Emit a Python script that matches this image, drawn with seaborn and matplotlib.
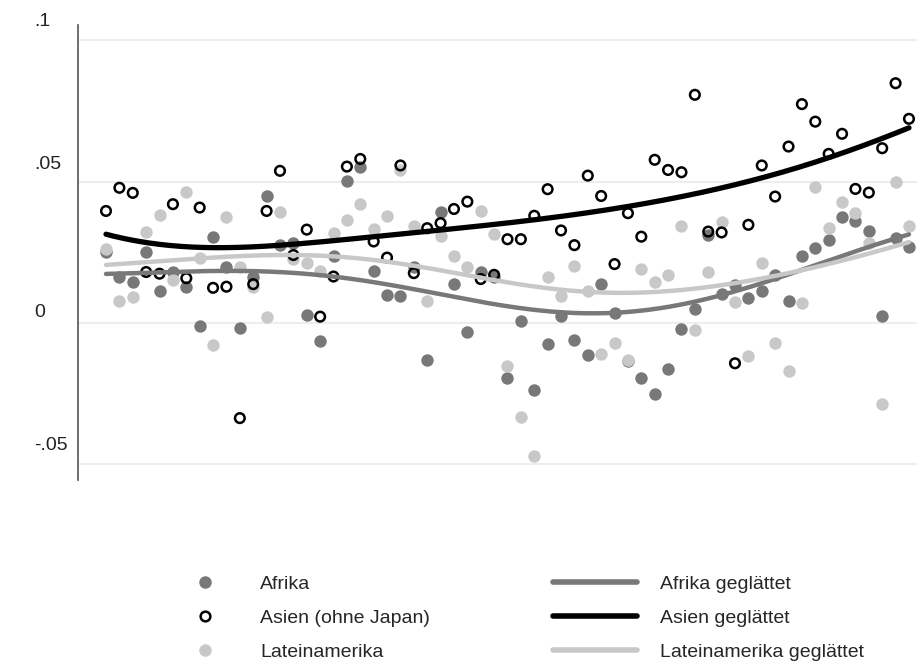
import numpy as np
import pandas as pd
import matplotlib
matplotlib.use("Agg")
import matplotlib.pyplot as plt
from matplotlib.lines import Line2D
from matplotlib.transforms import ScaledTranslation
import seaborn as sns

# one value per year, 61 years (x axis carries no labels in the original)
years = np.arange(1957, 2018)

afrika = [0.0251, 0.0164, 0.0144, 0.0252, 0.0113, 0.0180, 0.0128, -0.0010, 0.0305, 0.0197,
          -0.0019, 0.0162, 0.0450, 0.0276, 0.0284, 0.0028, -0.0064, 0.0237, 0.0502, 0.0553,
          0.0182, 0.0099, 0.0096, 0.0199, -0.0131, 0.0392, 0.0137, -0.0034, 0.0179, 0.0164,
          -0.0196, 0.0005, -0.0237, -0.0075, 0.0026, -0.0060, -0.0113, 0.0137, 0.0034, -0.0135,
          -0.0196, -0.0251, -0.0164, -0.0022, 0.0050, 0.0310, 0.0101, 0.0134, 0.0087, 0.0113,
          0.0170, 0.0078, 0.0238, 0.0264, 0.0294, 0.0373, 0.0361, 0.0326, 0.0026, 0.0300,
          0.0267]

asien = [0.0396, 0.0478, 0.0460, 0.0180, 0.0174, 0.0420, 0.0158, 0.0408, 0.0124, 0.0128,
         -0.0337, 0.0137, 0.0396, 0.0538, 0.0240, 0.0330, 0.0022, 0.0164, 0.0553, 0.0580,
         0.0288, 0.0231, 0.0557, 0.0176, 0.0335, 0.0353, 0.0403, 0.0429, 0.0155, 0.0170,
         0.0296, 0.0296, 0.0379, 0.0473, 0.0327, 0.0275, 0.0521, 0.0449, 0.0208, 0.0388,
         0.0305, 0.0577, 0.0541, 0.0533, 0.0807, 0.0323, 0.0320, -0.0143, 0.0347, 0.0557,
         0.0447, 0.0624, 0.0774, 0.0712, 0.0598, 0.0669, 0.0474, 0.0461, 0.0618, 0.0848,
         0.0722]

lateinamerika = [0.0262, 0.0078, 0.0093, 0.0320, 0.0382, 0.0152, 0.0462, 0.0229, -0.0078, 0.0373,
                 0.0198, 0.0126, 0.0020, 0.0393, 0.0226, 0.0213, 0.0182, 0.0317, 0.0364, 0.0421,
                 0.0331, 0.0379, 0.0540, 0.0344, 0.0078, 0.0308, 0.0237, 0.0199, 0.0396, 0.0316,
                 -0.0152, -0.0334, -0.0471, 0.0164, 0.0096, 0.0202, 0.0111, -0.0110, -0.0070, -0.0131,
                 0.0190, 0.0143, 0.0170, 0.0343, -0.0025, 0.0180, 0.0356, 0.0075, -0.0119, 0.0213,
                 -0.0072, -0.0170, 0.0070, 0.0479, 0.0335, 0.0426, 0.0388, 0.0284, -0.0287, 0.0498,
                 0.0343]

regions = ["Afrika", "Asien (ohne Japan)", "Lateinamerika"]
smooth_labels = ["Afrika geglättet", "Asien geglättet", "Lateinamerika geglättet"]
ytick_values = [-0.05, 0, 0.05, 0.1]
ytick_labels = ["-.05", "0", ".05", ".1"]

colors = {"Afrika": "#787878", "Asien (ohne Japan)": "black", "Lateinamerika": "#c8c8c8"}


def local_smooth(x, y, grid, bw):
    """local linear fit with a gaussian kernel"""
    out = []
    for g in grid:
        w = np.exp(-0.5 * ((x - g) / bw) ** 2)
        xm = np.sum(w * x) / w.sum()
        ym = np.sum(w * y) / w.sum()
        b = np.sum(w * (x - xm) * (y - ym)) / np.sum(w * (x - xm) ** 2)
        out.append(ym + b * (g - xm))
    return np.array(out)


df = pd.DataFrame({
    "Jahr": np.tile(years, 3),
    "Wert": afrika + asien + lateinamerika,
    "Region": np.repeat(regions, len(years)),
})

sns.set_style("white")
plt.rcParams["font.family"] = ["Liberation Sans", "DejaVu Sans"]

fig = plt.figure(figsize=(9.17, 6.62), dpi=100)
ax = fig.add_axes([77.5 / 917, 1 - 480 / 662, (917 - 77.5) / 917, (480 - 25) / 662])

# points
sns.scatterplot(data=df[df.Region == "Afrika"], x="Jahr", y="Wert", color=colors["Afrika"],
                s=80, linewidth=0, ax=ax, zorder=2)
sns.scatterplot(data=df[df.Region == "Lateinamerika"], x="Jahr", y="Wert", color=colors["Lateinamerika"],
                s=80, linewidth=0, ax=ax, zorder=2.1)
sns.scatterplot(data=df[df.Region == "Asien (ohne Japan)"], x="Jahr", y="Wert", facecolor="none",
                edgecolor="black", s=48, linewidth=1.8, ax=ax, zorder=2.2)

# smoothed lines
grid = np.linspace(years[0], years[-1], 300)
xs = years.astype(float)
for reg, vals, lw in [("Afrika", afrika, 3.2), ("Asien (ohne Japan)", asien, 3.8),
                      ("Lateinamerika", lateinamerika, 3.2)]:
    sm = local_smooth(xs, np.array(vals), grid, bw=10)
    sns.lineplot(x=grid, y=sm, color=colors[reg], lw=lw, ax=ax, zorder=3)

ax.set_xlim(years[0] - 2.13, years[0] + 60.6)
ax.set_ylim(-0.0556, 0.1054)
ax.set_xlabel("")
ax.set_ylabel("")
ax.set_xticks([])
ax.set_yticks(ytick_values)
ax.tick_params(axis="y", length=10, width=1, color="#555555", labelleft=False)
ax.grid(axis="y", color="#ededed", lw=1.5)
ax.set_axisbelow(True)
for side in ["top", "right", "bottom"]:
    ax.spines[side].set_visible(False)
ax.spines["left"].set_color("#555555")
ax.spines["left"].set_linewidth(1.2)

# tick labels sit above the tick marks, left aligned
label_raise = [19, 10, 17, 19]
for val, lab, up in zip(ytick_values, ytick_labels, label_raise):
    tr = ax.get_yaxis_transform() + ScaledTranslation(-43.5 / 100, up / 100, fig.dpi_scale_trans)
    ax.text(0, val, lab, transform=tr, ha="left", va="center", fontsize=14, color="#222222")

# legend: markers on the left, lines on the right
point_handles = [
    Line2D([], [], ls="", marker="o", ms=9, mfc=colors["Afrika"], mec="none"),
    Line2D([], [], ls="", marker="o", ms=7, mfc="none", mec="black", mew=1.8),
    Line2D([], [], ls="", marker="o", ms=9, mfc=colors["Lateinamerika"], mec="none"),
]
line_handles = [Line2D([], [], color=colors[r], lw=4) for r in regions]

leg_kw = dict(frameon=False, fontsize=14, borderpad=0, borderaxespad=0, labelspacing=0.86,
              loc="upper left")
leg1 = fig.legend(handles=point_handles, labels=regions, handlelength=1, handletextpad=2.35,
                  bbox_to_anchor=(195 / 917, 1 - 575 / 662), **leg_kw)
leg2 = fig.legend(handles=line_handles, labels=smooth_labels, handlelength=4.3, handletextpad=1.2,
                  bbox_to_anchor=(553 / 917, 1 - 575 / 662), **leg_kw)

fig.savefig("out.png", dpi=100)
